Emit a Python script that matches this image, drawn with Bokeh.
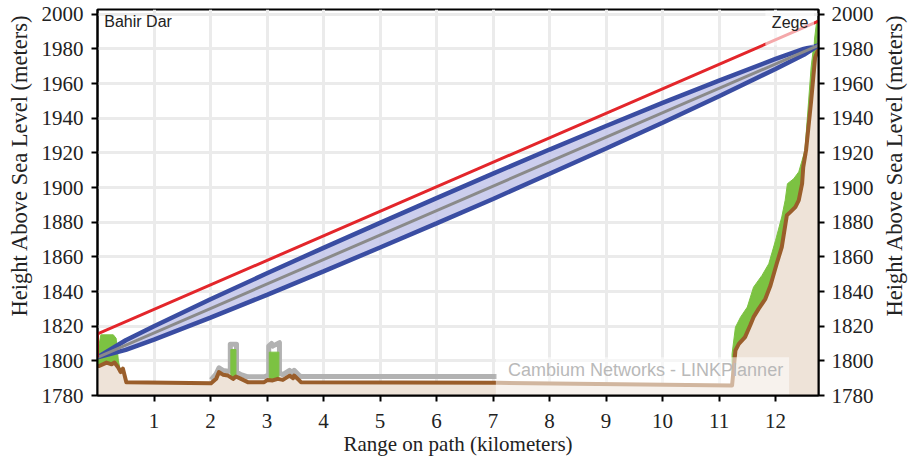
import math
import numpy as np
from bokeh.plotting import figure
from bokeh.layouts import row
from bokeh.models import LinearAxis, Range1d, FixedTicker, Label
from bokeh.embed import file_html
from bokeh.resources import INLINE
from bokeh.core.properties import value

# ---------------- data ----------------
x_ticks = [1, 2, 3, 4, 5, 6, 7, 8, 9, 10, 11, 12]
y_ticks = [1780, 1800, 1820, 1840, 1860, 1880, 1900, 1920, 1940, 1960, 1980, 2000]

site_a = "Bahir Dar"
site_b = "Zege"
watermark = "Cambium Networks - LINKPlanner"
y_title = "Height Above Sea Level (meters)"
x_title = "Range on path (kilometers)"

# line of sight (grey) and red clearance line
los_km = [0.0, 12.76]
los_h = [1802.0, 1982.0]
red_km = [0.0, 0.0, 12.76]
red_h = [1802.0, 1815.5, 1996.0]

# Fresnel zone boundaries (blue)
fresnel_km = [0.0, 0.5, 1, 2, 3, 4, 5, 6, 7, 8, 9, 10, 11, 12, 12.5, 12.76]
fresnel_upper = [1802.0, 1811.9, 1820.0, 1835.5, 1850.5, 1865.2, 1879.6, 1893.9,
                 1908.0, 1921.9, 1935.5, 1948.8, 1961.7, 1974.2, 1980.0, 1982.0]
fresnel_lower = [1802.0, 1806.3, 1812.2, 1824.9, 1838.1, 1851.6, 1865.4, 1879.3,
                 1893.4, 1907.9, 1922.5, 1937.4, 1952.7, 1968.4, 1976.6, 1982.0]

# terrain profile (brown)
terrain_km = [0.00, 0.03, 0.16, 0.25, 0.30, 0.36, 0.41, 0.45, 0.51, 2.01, 2.10, 2.15,
              2.22, 2.31, 2.40, 2.45, 2.54, 2.66, 2.95, 3.01, 3.10, 3.19, 3.28, 3.40,
              3.46, 3.48, 3.57, 3.60, 7.07, 11.23, 11.29, 11.35, 11.46, 11.55, 11.61,
              11.70, 11.82, 11.91, 12.02, 12.11, 12.20, 12.26, 12.35, 12.41, 12.47,
              12.49, 12.54, 12.63, 12.70, 12.76]
terrain_h = [1797.0, 1797.0, 1799.0, 1798.0, 1799.0, 1796.5, 1793.5, 1795.5, 1787.7,
             1787.0, 1789.6, 1793.5, 1792.0, 1791.5, 1789.6, 1791.0, 1789.6, 1787.7,
             1787.7, 1789.0, 1788.7, 1789.6, 1789.0, 1791.5, 1790.0, 1791.5, 1788.7,
             1787.7, 1787.3, 1785.8, 1806.0, 1809.8, 1813.7, 1820.4, 1825.2, 1830.0,
             1835.8, 1843.5, 1856.0, 1865.6, 1884.0, 1885.8, 1888.7, 1892.6, 1902.2,
             1911.8, 1921.5, 1950.0, 1975.0, 1980.0]

# clutter top (grey band)
clutter_km = [2.01, 2.10, 2.15, 2.22, 2.31, 2.35, 2.35, 2.46, 2.46, 2.54, 2.66, 2.95,
              3.03, 3.03, 3.08, 3.10, 3.22, 3.22, 3.28, 3.40, 3.46, 3.48, 3.57, 3.60, 7.07]
clutter_h = [1789.0, 1792.5, 1796.0, 1794.5, 1794.0, 1794.0, 1809.5, 1809.5, 1793.5,
             1792.0, 1790.8, 1790.8, 1791.8, 1808.5, 1810.0, 1808.5, 1810.5, 1793.0,
             1792.0, 1794.5, 1793.0, 1794.5, 1791.5, 1791.0, 1791.0]

# green vegetation tops
green_left_km = [0.0, 0.02, 0.06, 0.28, 0.33, 0.37, 0.41]
green_left_top = [1797.0, 1808.0, 1815.0, 1815.0, 1813.0, 1800.0, 1793.5]
green_s1_km = [2.36, 2.36, 2.45, 2.45]
green_s1_top = [1790.5, 1806.5, 1806.5, 1791.0]
green_s2_km = [3.04, 3.04, 3.21, 3.21]
green_s2_top = [1789.0, 1805.0, 1805.0, 1789.6]
green_right_km = [11.23, 11.23, 11.29, 11.38, 11.50, 11.61, 11.76, 11.88, 12.00, 12.11,
                  12.17, 12.21, 12.32, 12.41, 12.47, 12.52, 12.63, 12.73, 12.76]
green_right_top = [1785.8, 1804.0, 1819.4, 1825.2, 1831.0, 1842.5, 1849.3, 1856.0,
                   1869.5, 1883.0, 1892.6, 1902.2, 1905.0, 1909.0, 1915.7, 1921.5,
                   1969.6, 1996.5, 1996.0]

# ---------------- figure ----------------
SERIF = "Liberation Serif"
SANS = "Liberation Sans"
X0, X1 = 0.0, 12.76
Y0, Y1 = 1780.0, 2002.7
H = 463
LEFT_W = 34
RIGHT_W = 34
MAIN_W = 842

p = figure(width=MAIN_W, height=H, output_backend="svg", toolbar_location=None,
           x_range=Range1d(X0, X1), y_range=Range1d(Y0, Y1),
           min_border_left=63, min_border_right=58, min_border_top=9,
           min_border_bottom=68, background_fill_color="white",
           border_fill_color="white")
p.outline_line_color = "black"
p.outline_line_width = 2

def style_axis(ax, ticks):
    ax.ticker = FixedTicker(ticks=ticks)
    ax.major_label_text_font = SERIF
    ax.major_label_text_font_size = "21px"
    ax.major_label_text_color = "#222222"
    ax.axis_label_text_font = SERIF
    ax.axis_label_text_font_size = "21px"
    ax.axis_label_text_font_style = "normal"
    ax.axis_label_text_color = "#222222"
    ax.axis_line_color = "black"
    ax.axis_line_width = 2
    ax.major_tick_line_color = "black"
    ax.major_tick_line_width = 2
    ax.major_tick_out = 6
    ax.major_tick_in = 0
    ax.minor_tick_line_color = None

xa = p.xaxis[0]
style_axis(xa, x_ticks)
xa.axis_label = x_title
xa.major_label_standoff = 12
xa.axis_label_standoff = 1

ya = p.yaxis[0]
style_axis(ya, y_ticks)
ya.major_label_standoff = 8

yr = LinearAxis()
style_axis(yr, y_ticks)
yr.major_label_standoff = 7
p.add_layout(yr, "right")

for g in (p.xgrid[0], p.ygrid[0]):
    g.grid_line_color = "#ebebeb"
    g.grid_line_width = 3
p.xgrid[0].ticker = FixedTicker(ticks=x_ticks)
p.ygrid[0].ticker = FixedTicker(ticks=y_ticks)

# terrain fill
p.varea(x=terrain_km, y1=Y0, y2=terrain_h, fill_color="#eee3d8", fill_alpha=1.0)

# clutter grey band
p.line(clutter_km, clutter_h, line_color="#b2b2b2", line_width=5, line_join="round")

def green_poly(top_km, top_h):
    a, b = top_km[0], top_km[-1]
    inner = [(k, h) for k, h in zip(terrain_km, terrain_h) if a < k < b]
    xs = list(top_km) + [k for k, _ in reversed(inner)]
    ys = list(top_h) + [h for _, h in reversed(inner)]
    return xs, ys

for tk, th in ((green_left_km, green_left_top), (green_s1_km, green_s1_top),
               (green_s2_km, green_s2_top), (green_right_km, green_right_top)):
    xs, ys = green_poly(tk, th)
    p.patch(xs, ys, fill_color="#7cc242", line_color="#7cc242", line_width=1)

# terrain line
p.line(terrain_km, terrain_h, line_color="#9a5e2b", line_width=4, line_join="round")

# Fresnel zone
p.varea(x=fresnel_km, y1=fresnel_lower, y2=fresnel_upper, fill_color="#c3c5ea", fill_alpha=0.85)
p.line(fresnel_km, fresnel_upper, line_color="#3a4da2", line_width=4.5)
p.line(fresnel_km, fresnel_lower, line_color="#3a4da2", line_width=4.5)
p.line(los_km, los_h, line_color="#8a8a8a", line_width=3)
p.line(red_km, red_h, line_color="#e3262b", line_width=3)

# watermark box and text
p.quad(left=7.05, right=12.24, bottom=1780.5, top=1802.0, fill_color="white",
       fill_alpha=0.55, line_color=None)
p.add_layout(Label(x=9.7, y=1795.0, text=watermark, text_align="center",
                   text_baseline="middle", text_font=SANS, text_font_size="18px",
                   text_color="#b9b9b9"))

# site labels
p.quad(left=11.82, right=12.68, bottom=1982.0, top=2002.0, fill_color="white",
       fill_alpha=0.6, line_color=None)
p.add_layout(Label(x=0.12, y=1996.0, text=site_a, text_align="left",
                   text_baseline="middle", text_font=SANS, text_font_size="16px",
                   text_color="#222222"))
p.add_layout(Label(x=12.58, y=1995.0, text=site_b, text_align="right",
                   text_baseline="middle", text_font=SANS, text_font_size="16px",
                   text_color="#222222"))

# side strips carrying the vertical axis titles (both read bottom to top)
def side_strip(w, tx):
    s = figure(width=w, height=H, output_backend="svg", toolbar_location=None,
               x_range=Range1d(0, w), y_range=Range1d(0, H),
               min_border_left=0, min_border_right=0, min_border_top=0,
               min_border_bottom=0, background_fill_color="white",
               border_fill_color="white")
    s.outline_line_color = None
    s.axis.visible = False
    s.grid.visible = False
    s.text(x=[tx], y=[H - 187], text=[y_title], angle=math.pi / 2,
           text_align="center", text_baseline="middle", text_font=value(SERIF),
           text_font_size="22.5px", text_color="#222222")
    return s

left_s = side_strip(LEFT_W, 19)
right_s = side_strip(RIGHT_W, 18)

layout = row(left_s, p, right_s)
open("out.html", "w").write(file_html(layout, INLINE))
